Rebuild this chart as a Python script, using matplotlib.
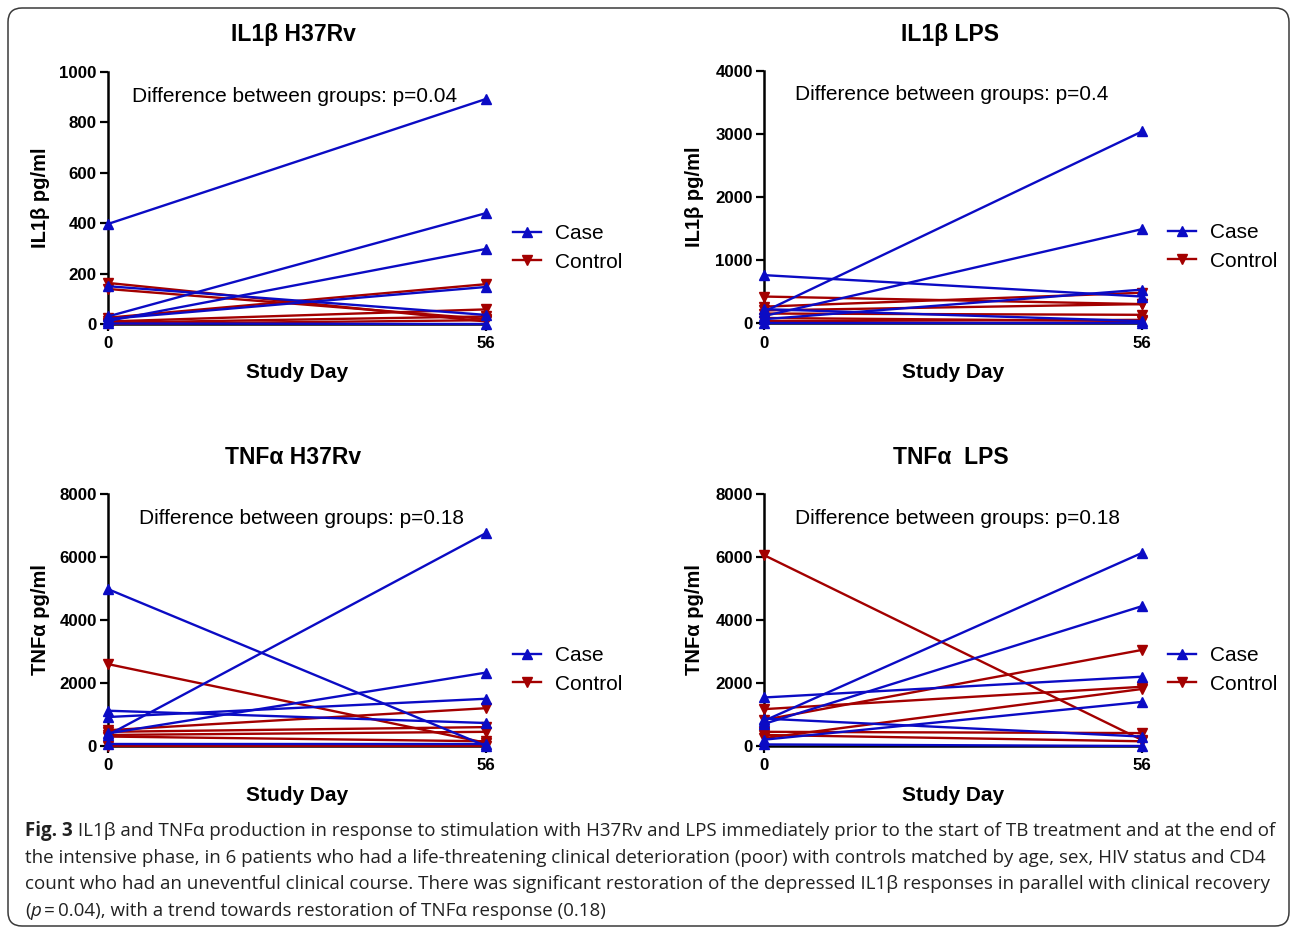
import matplotlib
matplotlib.use("Agg")
import matplotlib.pyplot as plt
from matplotlib.patches import FancyBboxPatch
from matplotlib.transforms import IdentityTransform
from matplotlib.lines import Line2D

# ---------------- data ----------------
days = [0, 56]

il1b_h37rv_case_d0 = [397, 30, 12, 150, 20, 2]
il1b_h37rv_case_d56 = [893, 440, 298, 36, 147, 0]
il1b_h37rv_ctrl_d0 = [163, 139, 25, 10, 5, 0]
il1b_h37rv_ctrl_d56 = [10, 20, 158, 58, 30, 15]

il1b_lps_case_d0 = [180, 110, 760, 60, 220, 0]
il1b_lps_case_d56 = [3040, 1490, 420, 530, 30, 0]
il1b_lps_ctrl_d0 = [420, 260, 200, 150, 80, 30]
il1b_lps_ctrl_d56 = [300, 480, 300, 130, 30, 50]

tnfa_h37rv_case_d0 = [4980, 350, 1120, 920, 400, 50]
tnfa_h37rv_case_d56 = [0, 6760, 730, 1500, 2330, 50]
tnfa_h37rv_ctrl_d0 = [2600, 500, 450, 350, 300, 0]
tnfa_h37rv_ctrl_d56 = [100, 1200, 600, 450, 150, 0]

tnfa_lps_case_d0 = [800, 700, 1540, 200, 870, 50]
tnfa_lps_case_d56 = [6130, 4440, 2200, 1400, 300, 0]
tnfa_lps_ctrl_d0 = [6060, 830, 1170, 250, 450, 350]
tnfa_lps_ctrl_d56 = [190, 3050, 1880, 1810, 410, 150]

titles = ["IL1\u03b2 H37Rv", "IL1\u03b2 LPS", "TNF\u03b1 H37Rv", "TNF\u03b1  LPS"]
ylabels = ["IL1\u03b2 pg/ml", "IL1\u03b2 pg/ml", "TNF\u03b1 pg/ml", "TNF\u03b1 pg/ml"]
pvalues = ["p=0.04", "p=0.4", "p=0.18", "p=0.18"]
yticks_list = [[0, 200, 400, 600, 800, 1000],
               [0, 1000, 2000, 3000, 4000],
               [0, 2000, 4000, 6000, 8000],
               [0, 2000, 4000, 6000, 8000]]
legend_labels = ["Case", "Control"]

caption_lines = [
    [("Fig. 3", "bold"), (" IL1\u03b2 and TNF\u03b1 production in response to stimulation with H37Rv and LPS immediately prior to the start of TB treatment and at the end of", "normal")],
    [("the intensive phase, in 6 patients who had a life-threatening clinical deterioration (poor) with controls matched by age, sex, HIV status and CD4", "normal")],
    [("count who had an uneventful clinical course. There was significant restoration of the depressed IL1\u03b2 responses in parallel with clinical recovery", "normal")],
    [("(", "normal"), ("p", "italic"), ("\u2009=\u20090.04), with a trend towards restoration of TNF\u03b1 response (0.18)", "normal")],
]

panels = [
    (il1b_h37rv_case_d0, il1b_h37rv_case_d56, il1b_h37rv_ctrl_d0, il1b_h37rv_ctrl_d56),
    (il1b_lps_case_d0, il1b_lps_case_d56, il1b_lps_ctrl_d0, il1b_lps_ctrl_d56),
    (tnfa_h37rv_case_d0, tnfa_h37rv_case_d56, tnfa_h37rv_ctrl_d0, tnfa_h37rv_ctrl_d56),
    (tnfa_lps_case_d0, tnfa_lps_case_d56, tnfa_lps_ctrl_d0, tnfa_lps_ctrl_d56),
]

# ---------------- layout ----------------
W, H = 1292, 930
fig = plt.figure(figsize=(W / 100, H / 100), dpi=100)
fig.patch.set_facecolor("white")
plt.rcParams["font.family"] = ["Liberation Sans", "DejaVu Sans"]

BLUE = "#0b0bc4"
RED = "#a30000"
LW = 1.7
MS = 6.5

# axes pixel boxes: (x0, y_bottom, x1, y_top) in image pixel coords
boxes = [(108, 324, 486, 72), (764, 323, 1142, 71),
         (108, 746, 486, 494), (764, 746, 1142, 494)]
title_pos = [(293, 35), (950, 35), (293, 458), (951, 458)]
ylabel_x = [40, 695, 40, 695]
ann_pos = [(132, 96), (795, 95), (139, 518), (795, 518)]
legend_pos = [(513, 248), (1168, 247), (513, 670), (1168, 670)]
xlabel_y = [372, 372, 795, 795]


def fx(px):
    return px / W


def fy(py):
    return 1 - py / H


for i, (box, data) in enumerate(zip(boxes, panels)):
    x0, yb, x1, yt = box
    ax = fig.add_axes([fx(x0), fy(yb), (x1 - x0) / W, (yb - yt) / H])
    cd0, cd56, kd0, kd56 = data
    for a, b in zip(kd0, kd56):
        ax.plot(days, [a, b], color=RED, lw=LW, marker="v", ms=MS,
                clip_on=False, zorder=3)
    for a, b in zip(cd0, cd56):
        ax.plot(days, [a, b], color=BLUE, lw=LW, marker="^", ms=MS,
                clip_on=False, zorder=3)
    yt_ = yticks_list[i]
    ax.set_xlim(0, 56)
    ax.set_ylim(0, yt_[-1])
    ax.set_xticks(days)
    ax.set_yticks(yt_)
    ax.set_xticklabels([str(d) for d in days], fontsize=12.2, fontweight="bold")
    ax.set_yticklabels([str(v) for v in yt_], fontsize=12.2, fontweight="bold")
    for s in ["top", "right"]:
        ax.spines[s].set_visible(False)
    for s in ["left", "bottom"]:
        ax.spines[s].set_linewidth(1.8)
    ax.tick_params(axis="y", direction="out", length=6, width=1.6, pad=2)
    ax.tick_params(axis="x", direction="out", length=5, width=1.6, pad=4)
    ax.set_facecolor("none")

    fig.text(fx(title_pos[i][0]), fy(title_pos[i][1]), titles[i],
             ha="center", va="center", fontsize=16.5, fontweight="bold")
    fig.text(fx(ylabel_x[i]), fy((yb + yt) / 2), ylabels[i], rotation=90,
             ha="center", va="center", fontsize=14.5, fontweight="bold")
    fig.text(fx((x0 + x1) / 2), fy(xlabel_y[i]), "Study Day",
             ha="center", va="center", fontsize=15, fontweight="bold")
    fig.text(fx(ann_pos[i][0]), fy(ann_pos[i][1]),
             "Difference between groups: " + pvalues[i],
             ha="left", va="center", fontsize=15)

    handles = [Line2D([], [], color=BLUE, lw=LW, marker="^", ms=MS),
               Line2D([], [], color=RED, lw=LW, marker="v", ms=MS)]
    fig.legend(handles, legend_labels, loc="center left",
               bbox_to_anchor=(fx(legend_pos[i][0]), fy(legend_pos[i][1])),
               frameon=False, fontsize=15, handlelength=1.35,
               handletextpad=0.67, labelspacing=0.45, borderpad=0,
               borderaxespad=0)

# rounded border
border = FancyBboxPatch((8, 4), 1281, 918,
                        boxstyle="round,pad=0,rounding_size=14",
                        transform=IdentityTransform(), fill=False,
                        edgecolor="#3a3a3a", linewidth=1.1)
fig.add_artist(border)

# caption
fig.canvas.draw()
renderer = fig.canvas.get_renderer()
cap_y = [831, 858, 884, 911]
cap_font = ["Open Sans", "DejaVu Sans"]
for line, yy in zip(caption_lines, cap_y):
    x = 25
    for text, style in line:
        kw = dict(fontsize=13.5, family=cap_font, color="#222222")
        if style == "bold":
            kw["fontweight"] = "bold"
        if style == "italic":
            kw["fontstyle"] = "italic"
        t = fig.text(fx(x), fy(yy), text, ha="left", va="center", **kw)
        x += t.get_window_extent(renderer=renderer).width

fig.savefig("out.png", dpi=100, facecolor="white")
